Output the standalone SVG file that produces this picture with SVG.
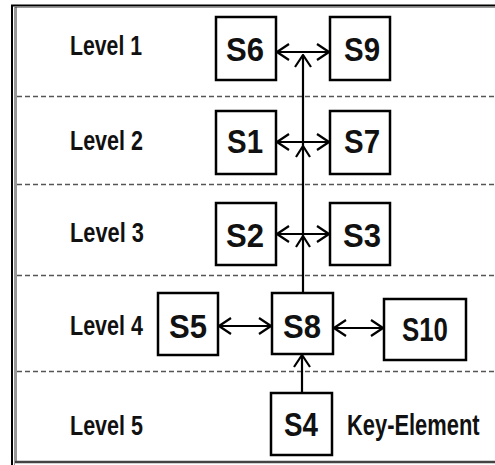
<svg xmlns="http://www.w3.org/2000/svg" width="495" height="465" viewBox="0 0 495 465">
<defs>
<style>
.box{fill:#fff;stroke:#000;stroke-width:2.5}
.lbl{font-family:"Liberation Sans",Arial,sans-serif;font-weight:bold;font-size:33px;fill:#111}
.lvl{font-family:"Liberation Sans",Arial,sans-serif;font-weight:bold;font-size:28px;fill:#111}
.key{font-family:"Liberation Sans",Arial,sans-serif;font-weight:bold;font-size:30px;fill:#111}
.dash{stroke:#555;stroke-width:1.6;stroke-dasharray:5 3;fill:none}
.con{stroke:#000;stroke-width:2.2;fill:none}
</style>
<marker id="ah" viewBox="0 0 14 18" refX="13" refY="9" markerWidth="14" markerHeight="18" markerUnits="userSpaceOnUse" orient="auto-start-reverse">
<path d="M1,1 L13,9 L1,17" fill="none" stroke="#000" stroke-width="2.2"/>
</marker>
</defs>
<rect width="495" height="465" fill="#fff"/>
<g id="frame">
<line x1="11" y1="5.5" x2="495" y2="5.5" stroke="#000" stroke-width="2"/>
<line x1="14" y1="7.5" x2="495" y2="7.5" stroke="#999" stroke-width="1"/>
<line x1="12" y1="5" x2="12" y2="465" stroke="#000" stroke-width="2"/>
<line x1="14.5" y1="7" x2="14.5" y2="465" stroke="#999" stroke-width="1"/>
<line x1="16" y1="7" x2="16" y2="462" stroke="#333" stroke-width="1"/>
<line x1="15" y1="462" x2="495" y2="462" stroke="#444" stroke-width="2.5"/>
</g>
<g id="levels">
<line class="dash" x1="17" y1="96.5" x2="495" y2="96.5"/>
<line class="dash" x1="17" y1="184.5" x2="495" y2="184.5"/>
<line class="dash" x1="17" y1="275.5" x2="495" y2="275.5"/>
<line class="dash" x1="17" y1="371.5" x2="495" y2="371.5"/>
<text class="lvl" x="70" y="55" textLength="72" lengthAdjust="spacingAndGlyphs">Level 1</text>
<text class="lvl" x="70" y="150" textLength="73" lengthAdjust="spacingAndGlyphs">Level 2</text>
<text class="lvl" x="70" y="242" textLength="74" lengthAdjust="spacingAndGlyphs">Level 3</text>
<text class="lvl" x="70" y="335" textLength="73" lengthAdjust="spacingAndGlyphs">Level 4</text>
<text class="lvl" x="70" y="435" textLength="73" lengthAdjust="spacingAndGlyphs">Level 5</text>
<text class="key" transform="translate(347,435) scale(0.73,1)" x="0" y="0">Key-Element</text>
</g>
<g id="connectors">
<line class="con" x1="303" y1="292" x2="303" y2="55" marker-end="url(#ah)"/>
<path class="con" d="M296,247 L303,236 L310,247"/>
<path class="con" d="M296,157 L303,146 L310,157"/>
<line class="con" x1="277" y1="52" x2="329" y2="52" marker-start="url(#ah)" marker-end="url(#ah)"/>
<line class="con" x1="277" y1="142" x2="329" y2="142" marker-start="url(#ah)" marker-end="url(#ah)"/>
<line class="con" x1="277" y1="234" x2="329" y2="234" marker-start="url(#ah)" marker-end="url(#ah)"/>
<line class="con" x1="219" y1="326" x2="271" y2="326" marker-start="url(#ah)" marker-end="url(#ah)"/>
<line class="con" x1="334" y1="328" x2="383" y2="328" marker-start="url(#ah)" marker-end="url(#ah)"/>
<line class="con" x1="302" y1="393" x2="302" y2="355" marker-end="url(#ah)"/>
</g>
<g id="S6"><rect class="box" x="216" y="17" width="60" height="63"/><text class="lbl" x="245" y="61" text-anchor="middle" textLength="38" lengthAdjust="spacingAndGlyphs">S6</text></g>
<g id="S9"><rect class="box" x="330" y="17" width="60" height="63"/><text class="lbl" x="362" y="61" text-anchor="middle" textLength="36" lengthAdjust="spacingAndGlyphs">S9</text></g>
<g id="S1"><rect class="box" x="216" y="111" width="60" height="63"/><text class="lbl" x="245" y="153" text-anchor="middle" textLength="36" lengthAdjust="spacingAndGlyphs">S1</text></g>
<g id="S7"><rect class="box" x="330" y="111" width="60" height="63"/><text class="lbl" x="362" y="153" text-anchor="middle" textLength="36" lengthAdjust="spacingAndGlyphs">S7</text></g>
<g id="S2"><rect class="box" x="216" y="203" width="60" height="62"/><text class="lbl" x="245" y="247" text-anchor="middle" textLength="38" lengthAdjust="spacingAndGlyphs">S2</text></g>
<g id="S3"><rect class="box" x="330" y="203" width="60" height="62"/><text class="lbl" x="362" y="247" text-anchor="middle" textLength="38" lengthAdjust="spacingAndGlyphs">S3</text></g>
<g id="S5"><rect class="box" x="158" y="293" width="60" height="62"/><text class="lbl" x="188" y="338" text-anchor="middle" textLength="38" lengthAdjust="spacingAndGlyphs">S5</text></g>
<g id="S8"><rect class="box" x="272" y="293" width="61" height="61"/><text class="lbl" x="302" y="338" text-anchor="middle" textLength="38" lengthAdjust="spacingAndGlyphs">S8</text></g>
<g id="S10"><rect class="box" x="384" y="299" width="82" height="61"/><text class="lbl" x="425" y="341" text-anchor="middle" textLength="46" lengthAdjust="spacingAndGlyphs">S10</text></g>
<g id="S4"><rect class="box" x="271" y="393" width="61" height="62"/><text class="lbl" x="301" y="436" text-anchor="middle" textLength="34" lengthAdjust="spacingAndGlyphs">S4</text></g>
</svg>
